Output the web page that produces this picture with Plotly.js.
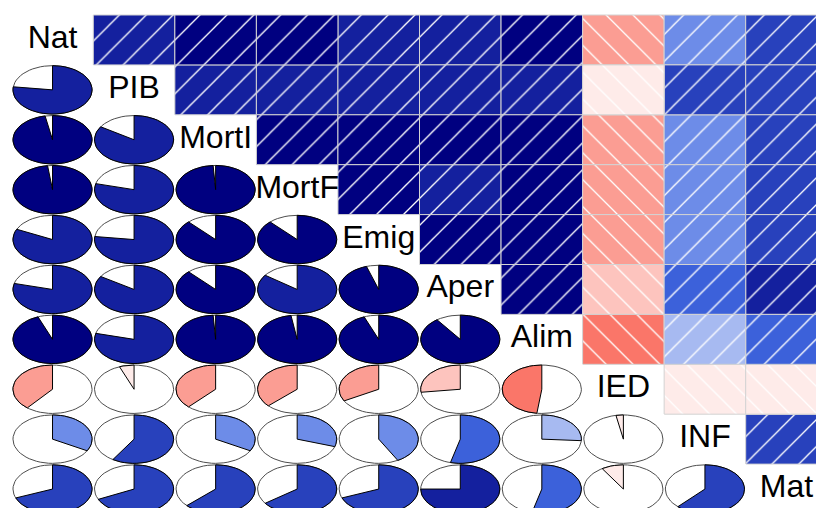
<!DOCTYPE html>
<html><head><meta charset="utf-8">
<script src="https://cdn.plot.ly/plotly-3.0.1.min.js"></script>
<style>html,body{margin:0;padding:0;background:#fff;overflow:hidden;} #chart{width:816px;height:508px;}</style>
</head><body><div id="chart"></div>
<script>
// Variable names (diagonal labels)
const varNames = ["Nat", "PIB", "MortI", "MortF", "Emig", "Aper", "Alim", "IED", "INF", "Mat"];
// Lower-triangle correlations, one array per row (columns 0..row-1)
const corPIB   = [0.77];
const corMortI = [0.97, 0.84];
const corMortF = [0.98, 0.79, 0.99];
const corEmig  = [0.82, 0.77, 0.88, 0.88];
const corAper  = [0.79, 0.84, 0.88, 0.85, 0.95];
const corAlim  = [0.94, 0.79, 0.99, 0.975, 0.94, 0.90];
const corIED   = [-0.39, -0.06, -0.38, -0.37, -0.33, -0.27, -0.48];
const corINF   = [0.33, 0.59, 0.33, 0.30, 0.42, 0.54, 0.26, -0.03];
const corMat   = [0.69, 0.68, 0.63, 0.65, 0.69, 0.75, 0.54, -0.09, 0.62];
const corRows = [[], corPIB, corMortI, corMortF, corEmig, corAper, corAlim, corIED, corINF, corMat];

// corrgram palette: colorRampPalette(c("red","salmon","white","royalblue","navy"))(14)
const pal14 = ["#FF0000","#FD2723","#FC4F46","#FA7669","#FB9D93","#FDC4BE","#FEEBE9",
               "#E2E8FA","#A7BAF1","#6D8CE8","#3C61DA","#2841BC","#14209E","#000080"];
function corColor(r) {
  let k = Math.floor((r + 1) / (2 / 14));
  k = Math.max(0, Math.min(13, k));
  return pal14[k];
}
function cor(i, j) { return i > j ? corRows[i][j] : corRows[j][i]; }

const n = varNames.length;
const traces = [];

// Upper triangle: shaded, hatched cells, grouped by colour and hatch direction
const groups = {};
for (let i = 0; i < n; i++) {
  for (let j = i + 1; j < n; j++) {
    const r = cor(i, j);
    const col = corColor(r), shp = r > 0 ? "/" : "\\";
    const key = col + shp;
    if (!groups[key]) groups[key] = {col: col, shp: shp, x: [], base: [], y: []};
    groups[key].x.push(j + 0.5); groups[key].base.push(i); groups[key].y.push(1);
  }
}
Object.values(groups).forEach(g => {
  traces.push({
    type: "bar", x: g.x, y: g.y, base: g.base, width: 1,
    marker: {
      color: g.col,
      line: {color: "#D3D3D3", width: 1},
      pattern: {shape: g.shp, fillmode: "replace", bgcolor: g.col, fgcolor: "#FFFFFF",
                fgopacity: 1, size: 19, solidity: 0.07}
    },
    hoverinfo: "skip", showlegend: false
  });
});

// Diagonal labels
traces.push({
  type: "scatter", mode: "text",
  x: varNames.map((_, i) => i + 0.5), y: varNames.map((_, i) => i + 0.5),
  text: varNames, textposition: "middle center",
  textfont: {family: "Liberation Sans, Arial, sans-serif", size: 32, color: "#000000"},
  hoverinfo: "skip", showlegend: false
});

// White mask of the panel left of each label (text is clipped to its panel in R)
const mx = [], my = [];
for (let i = 1; i < n; i++) {
  const j = i - 1;
  mx.push(j, j + 1, j + 1, j, j, null);
  my.push(i, i, i + 1, i + 1, i, null);
}
traces.push({
  type: "scatter", mode: "lines", x: mx, y: my, fill: "toself",
  fillcolor: "#FFFFFF", line: {width: 0, color: "rgba(0,0,0,0)"},
  connectgaps: false, hoverinfo: "skip", showlegend: false
});

// Lower triangle: pies
const rx = 0.5 * 0.97, ry = 0.5 * 0.97;
for (let i = 1; i < n; i++) {
  for (let j = 0; j < i; j++) {
    const r = corRows[i][j];
    const cx = j + 0.5, cy = i + 0.5;
    const ex = [], ey = [];
    for (let k = 0; k <= 60; k++) {
      const t = 2 * Math.PI * k / 60;
      ex.push(cx + Math.cos(t) * rx); ey.push(cy - Math.sin(t) * ry);
    }
    traces.push({type: "scatter", mode: "lines", x: ex, y: ey,
      line: {color: "#4D4D4D", width: 1}, hoverinfo: "skip", showlegend: false});
    const segs = Math.round(60 * Math.abs(r));
    if (segs > 0) {
      const px = [], py = [];
      for (let k = 0; k <= segs; k++) {
        const a = Math.PI / 2 + (2 * Math.PI * -r) * k / segs;
        px.push(cx + Math.cos(a) * rx); py.push(cy - Math.sin(a) * ry);
      }
      px.push(cx, px[0]); py.push(cy, py[0]);
      traces.push({type: "scatter", mode: "lines", x: px, y: py, fill: "toself",
        fillcolor: corColor(r), line: {color: "#000000", width: 1},
        hoverinfo: "skip", showlegend: false});
    }
  }
}

const layout = {
  width: 816, height: 508, autosize: false,
  margin: {l: 0, r: 0, t: 0, b: 0, pad: 0},
  paper_bgcolor: "#FFFFFF", plot_bgcolor: "#FFFFFF",
  barmode: "overlay", showlegend: false,
  xaxis: {range: [-11.75 / 81.55, (816 - 11.75) / 81.55], visible: false, fixedrange: true},
  yaxis: {range: [(508 - 15) / 49.9, -15 / 49.9], visible: false, fixedrange: true}
};
Plotly.newPlot("chart", traces, layout, {staticPlot: true, displayModeBar: false});
</script>
</body></html>
